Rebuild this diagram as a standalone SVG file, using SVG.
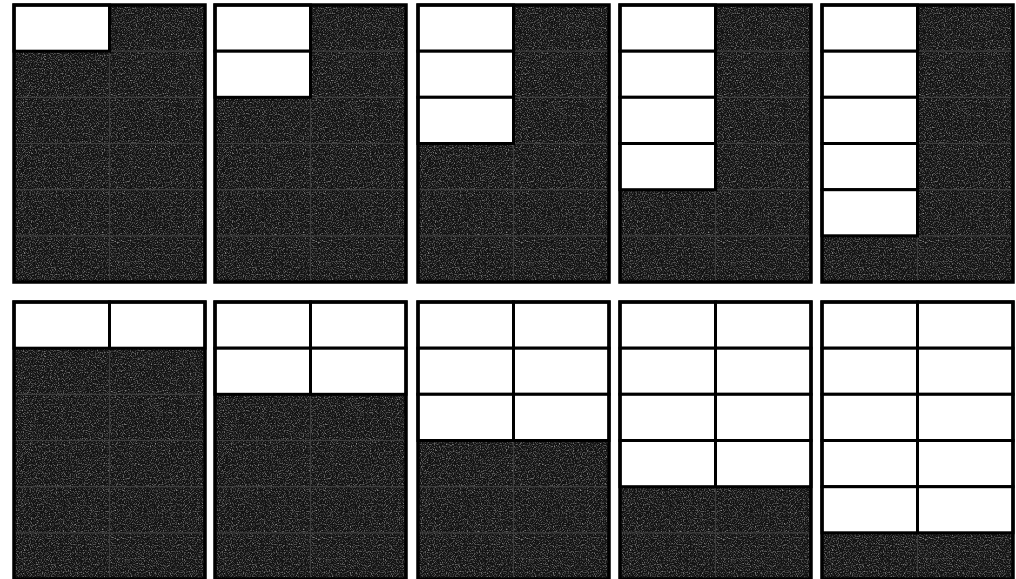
<svg xmlns="http://www.w3.org/2000/svg" width="1016" height="579" viewBox="0 0 1016 579">
<defs>
<style>
.bg{fill:#121212}
.nz{fill:#000;filter:url(#noise)}
.faint{stroke:#3e3e3e;stroke-width:1.2;fill:none}
.cell{fill:#fff;stroke:#000;stroke-width:3}
.frame{fill:none;stroke:#000;stroke-width:3.5}
</style>
<filter id="noise" x="0" y="0" width="100%" height="100%" filterUnits="objectBoundingBox">
<feTurbulence type="fractalNoise" baseFrequency="0.85" numOctaves="2" seed="7" result="t"/>
<feColorMatrix in="t" type="matrix" values="0 0 0 0 0.6  0 0 0 0 0.6  0 0 0 0 0.6  1.6 0 0 0 -0.74"/>
</filter>
<g id="darkpanel">
<rect class="bg" x="0" y="0" width="191" height="277"/>
<rect class="nz" x="0" y="0" width="191" height="277"/>
<path class="faint" d="M95.5 0V277M0 46.2H191M0 92.3H191M0 138.5H191M0 184.7H191M0 230.8H191"/>
</g>
</defs>
<rect width="1016" height="579" fill="#fff"/>

<g id="panel-a1" transform="translate(14,5)">
<use href="#darkpanel"/>
<rect class="cell" x="0" y="0" width="95.5" height="46.2"/>
<rect class="frame" x="0" y="0" width="191" height="277"/>
</g>
<g id="panel-a2" transform="translate(215,5)">
<use href="#darkpanel"/>
<rect class="cell" x="0" y="0" width="95.5" height="46.2"/>
<rect class="cell" x="0" y="46.2" width="95.5" height="46.1"/>
<rect class="frame" x="0" y="0" width="191" height="277"/>
</g>
<g id="panel-a3" transform="translate(418,5)">
<use href="#darkpanel"/>
<rect class="cell" x="0" y="0" width="95.5" height="46.2"/>
<rect class="cell" x="0" y="46.2" width="95.5" height="46.1"/>
<rect class="cell" x="0" y="92.3" width="95.5" height="46.2"/>
<rect class="frame" x="0" y="0" width="191" height="277"/>
</g>
<g id="panel-a4" transform="translate(620,5)">
<use href="#darkpanel"/>
<rect class="cell" x="0" y="0" width="95.5" height="46.2"/>
<rect class="cell" x="0" y="46.2" width="95.5" height="46.1"/>
<rect class="cell" x="0" y="92.3" width="95.5" height="46.2"/>
<rect class="cell" x="0" y="138.5" width="95.5" height="46.2"/>
<rect class="frame" x="0" y="0" width="191" height="277"/>
</g>
<g id="panel-a5" transform="translate(822,5)">
<use href="#darkpanel"/>
<rect class="cell" x="0" y="0" width="95.5" height="46.2"/>
<rect class="cell" x="0" y="46.2" width="95.5" height="46.1"/>
<rect class="cell" x="0" y="92.3" width="95.5" height="46.2"/>
<rect class="cell" x="0" y="138.5" width="95.5" height="46.2"/>
<rect class="cell" x="0" y="184.7" width="95.5" height="46.1"/>
<rect class="frame" x="0" y="0" width="191" height="277"/>
</g>

<g id="panel-b1" transform="translate(14,302)">
<use href="#darkpanel"/>
<rect class="cell" x="0" y="0" width="95.5" height="46.2"/>
<rect class="cell" x="95.5" y="0" width="95.5" height="46.2"/>
<rect class="frame" x="0" y="0" width="191" height="277"/>
</g>
<g id="panel-b2" transform="translate(215,302)">
<use href="#darkpanel"/>
<rect class="cell" x="0" y="0" width="95.5" height="46.2"/>
<rect class="cell" x="95.5" y="0" width="95.5" height="46.2"/>
<rect class="cell" x="0" y="46.2" width="95.5" height="46.1"/>
<rect class="cell" x="95.5" y="46.2" width="95.5" height="46.1"/>
<rect class="frame" x="0" y="0" width="191" height="277"/>
</g>
<g id="panel-b3" transform="translate(418,302)">
<use href="#darkpanel"/>
<rect class="cell" x="0" y="0" width="95.5" height="46.2"/>
<rect class="cell" x="95.5" y="0" width="95.5" height="46.2"/>
<rect class="cell" x="0" y="46.2" width="95.5" height="46.1"/>
<rect class="cell" x="95.5" y="46.2" width="95.5" height="46.1"/>
<rect class="cell" x="0" y="92.3" width="95.5" height="46.2"/>
<rect class="cell" x="95.5" y="92.3" width="95.5" height="46.2"/>
<rect class="frame" x="0" y="0" width="191" height="277"/>
</g>
<g id="panel-b4" transform="translate(620,302)">
<use href="#darkpanel"/>
<rect class="cell" x="0" y="0" width="95.5" height="46.2"/>
<rect class="cell" x="95.5" y="0" width="95.5" height="46.2"/>
<rect class="cell" x="0" y="46.2" width="95.5" height="46.1"/>
<rect class="cell" x="95.5" y="46.2" width="95.5" height="46.1"/>
<rect class="cell" x="0" y="92.3" width="95.5" height="46.2"/>
<rect class="cell" x="95.5" y="92.3" width="95.5" height="46.2"/>
<rect class="cell" x="0" y="138.5" width="95.5" height="46.2"/>
<rect class="cell" x="95.5" y="138.5" width="95.5" height="46.2"/>
<rect class="frame" x="0" y="0" width="191" height="277"/>
</g>
<g id="panel-b5" transform="translate(822,302)">
<use href="#darkpanel"/>
<rect class="cell" x="0" y="0" width="95.5" height="46.2"/>
<rect class="cell" x="95.5" y="0" width="95.5" height="46.2"/>
<rect class="cell" x="0" y="46.2" width="95.5" height="46.1"/>
<rect class="cell" x="95.5" y="46.2" width="95.5" height="46.1"/>
<rect class="cell" x="0" y="92.3" width="95.5" height="46.2"/>
<rect class="cell" x="95.5" y="92.3" width="95.5" height="46.2"/>
<rect class="cell" x="0" y="138.5" width="95.5" height="46.2"/>
<rect class="cell" x="95.5" y="138.5" width="95.5" height="46.2"/>
<rect class="cell" x="0" y="184.7" width="95.5" height="46.1"/>
<rect class="cell" x="95.5" y="184.7" width="95.5" height="46.1"/>
<rect class="frame" x="0" y="0" width="191" height="277"/>
</g>
</svg>
